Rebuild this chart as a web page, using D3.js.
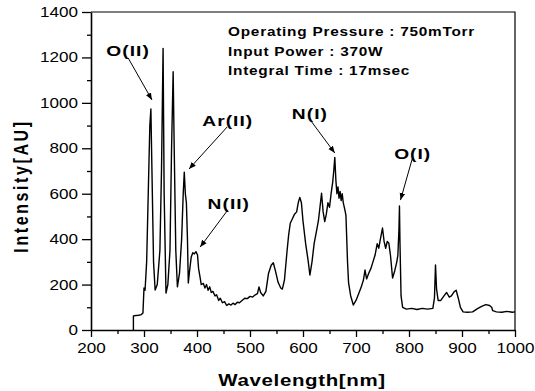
<!DOCTYPE html>
<html>
<head>
<meta charset="utf-8">
<script src="https://cdn.jsdelivr.net/npm/d3@7"></script>
<style>
  html, body { margin: 0; padding: 0; background: #fff; }
  svg { display: block; font-family: "Liberation Sans", Arial, sans-serif; }
</style>
</head>
<body>
<div id="chart"></div>
<script>
// spectrum: wavelength (nm) and intensity (AU)
const wavelength = [
  280, 280, 285, 290, 295, 298, 300, 302, 305, 308, 311, 313, 315, 318, 321, 325, 330, 333, 336, 338,
  341.5, 345, 349, 352, 355, 357, 360, 363, 367, 371, 374, 376, 378, 380, 382, 383.6, 386, 389, 392, 395,
  398, 401, 403, 406, 408, 412, 415, 418, 421, 424, 427, 430, 434, 437, 441, 444, 448, 452, 456, 460,
  464, 468, 472, 476, 480, 485, 490, 495, 500, 505, 510, 514, 517, 520, 525, 530, 535, 540, 544, 548,
  553, 558, 561, 565, 570, 573, 576, 580, 584, 588, 591, 594, 597, 600, 605, 610, 613, 617, 621, 625,
  629, 632, 635, 638, 641, 644, 647, 650, 653, 656, 658, 660, 662, 664, 666, 668, 670, 672, 674, 676,
  678, 681, 684, 686, 690, 695, 700, 705, 710, 714, 717, 720, 724, 728, 732, 736, 740, 743, 746, 750,
  753, 756, 759, 762, 765, 769, 773, 777, 779, 781, 782, 783, 785, 788, 795, 805, 815, 825, 835, 845,
  848, 850, 852, 855, 860, 866, 871, 876, 880, 885, 889, 893, 897, 902, 910, 920, 930, 938, 945, 952,
  956, 958, 965, 975, 985, 995, 1000
];
const intensity = [
  0, 62, 64, 65, 68, 75, 185, 175, 300, 600, 900, 973, 700, 300, 176, 200, 350, 700, 1240, 600,
  163, 200, 350, 800, 1137, 800, 350, 190, 250, 400, 600, 695, 600, 560, 400, 207, 260, 320, 340, 335,
  345, 330, 270, 230, 200, 205, 185, 200, 175, 190, 165, 170, 150, 155, 130, 140, 120, 125, 108, 115,
  110, 118, 112, 122, 120, 130, 140, 138, 148, 145, 155, 160, 190, 165, 150, 170, 250, 285, 296, 260,
  210, 185, 180, 220, 350, 420, 470, 490, 510, 520, 560, 584, 560, 480, 380, 300, 242, 300, 380, 430,
  480, 540, 602, 520, 477, 510, 560, 540, 600, 650, 700, 760, 660, 600, 630, 580, 610, 570, 600, 560,
  540, 506, 300, 207, 150, 110, 130, 160, 190, 220, 264, 225, 250, 270, 300, 330, 380, 360, 400, 449,
  390, 360, 390, 382, 330, 229, 260, 300, 330, 440, 546, 380, 150, 100, 92, 95, 90, 95, 92, 95,
  140, 286, 180, 130, 130, 150, 165, 145, 150, 168, 175, 140, 100, 80, 78, 80, 95, 105, 112, 108,
  100, 85, 80, 78, 82, 78, 80
];

const xTicks = [200, 300, 400, 500, 600, 700, 800, 900, 1000];
const yTicks = [0, 200, 400, 600, 800, 1000, 1200, 1400];

const infoLines = [
  'Operating Pressure : 750mTorr',
  'Input Power : 370W',
  'Integral Time : 17msec'
];

// peak labels: text, label centre (nm, AU), arrow start and arrow tip (nm, AU)
const peakLabels = [
  { text: 'O(II)',  at: [270, 1228], from: [270, 1198], to: [315, 1013] },
  { text: 'Ar(II)', at: [458, 920],  from: [457, 894],  to: [385, 709] },
  { text: 'N(II)',  at: [460, 555],  from: [458, 528],  to: [406, 365] },
  { text: 'N(I)',   at: [613, 951],  from: [611, 933],  to: [660, 779] },
  { text: 'O(I)',   at: [807, 775],  from: [806, 753],  to: [784, 572] }
];

const W = 535, H = 391;
const SX = 1.28; // the scanned lettering is wider than it is tall

const svg = d3.select('#chart').append('svg')
  .attr('width', W)
  .attr('height', H);

const x = d3.scaleLinear().domain([200, 1000]).range([91, 515]);
const y = d3.scaleLinear().domain([0, 1400]).range([330, 12]);

// frame (top and right)
svg.append('path')
  .attr('d', `M${x(200)},${y(1400)}H${x(1000)}V${y(0)}`)
  .attr('fill', 'none')
  .attr('stroke', '#000')
  .attr('stroke-width', 1.2);

// minor ticks
svg.append('g')
  .attr('transform', `translate(0,${y(0)})`)
  .call(d3.axisBottom(x).tickValues(d3.range(250, 1000, 100)).tickSize(4).tickFormat(''))
  .call((g) => g.select('.domain').remove());
svg.append('g')
  .attr('transform', `translate(${x(200)},0)`)
  .call(d3.axisLeft(y).tickValues(d3.range(100, 1400, 200)).tickSize(4).tickFormat(''))
  .call((g) => g.select('.domain').remove());

const xAxis = d3.axisBottom(x)
  .tickValues(xTicks)
  .tickFormat(d3.format('d'))
  .tickSize(7)
  .tickSizeOuter(0)
  .tickPadding(6);
const yAxis = d3.axisLeft(y)
  .tickValues(yTicks)
  .tickFormat(d3.format('d'))
  .tickSize(9)
  .tickSizeOuter(0);

const gx = svg.append('g')
  .attr('transform', `translate(0,${y(0)})`)
  .call(xAxis);
const gy = svg.append('g')
  .attr('transform', `translate(${x(200)},0)`)
  .call(yAxis);

[gx, gy].forEach((g) => {
  g.selectAll('.domain').attr('stroke-width', 1.6);
  g.selectAll('text')
    .attr('font-family', '"Liberation Sans", Arial, sans-serif')
    .attr('font-size', 14)
    .attr('fill', '#000');
});
gx.selectAll('text').attr('transform', `scale(${SX - 0.06},1)`);
gy.selectAll('text')
  .attr('x', 0)
  .attr('transform', `translate(-13,0) scale(${SX - 0.06},1)`);
svg.selectAll('.tick line').attr('stroke', '#000').attr('stroke-width', 1.3);

// spectrum
const line = d3.line()
  .x((d) => x(d[0]))
  .y((d) => y(d[1]));

svg.append('path')
  .datum(d3.zip(wavelength, intensity))
  .attr('d', line)
  .attr('fill', 'none')
  .attr('stroke', '#000')
  .attr('stroke-width', 1.4)
  .attr('stroke-linejoin', 'round');

// info block
svg.append('g')
  .selectAll('text')
  .data(infoLines)
  .join('text')
  .attr('transform', (d, i) => `translate(228,${36 + i * 19.5}) scale(${SX},1)`)
  .attr('font-size', 12)
  .attr('font-weight', 'bold')
  .attr('letter-spacing', 0.6)
  .text((d) => d);

// arrows
svg.append('defs').append('marker')
  .attr('id', 'head')
  .attr('viewBox', '0 0 10 10')
  .attr('refX', 10)
  .attr('refY', 5)
  .attr('markerWidth', 7)
  .attr('markerHeight', 7)
  .attr('markerUnits', 'userSpaceOnUse')
  .attr('orient', 'auto')
  .append('path')
  .attr('d', 'M0,1L10,5L0,9Z')
  .attr('fill', '#000');

const labels = svg.append('g');
labels.selectAll('line')
  .data(peakLabels)
  .join('line')
  .attr('x1', (d) => x(d.from[0]))
  .attr('y1', (d) => y(d.from[1]))
  .attr('x2', (d) => x(d.to[0]))
  .attr('y2', (d) => y(d.to[1]))
  .attr('stroke', '#000')
  .attr('stroke-width', 1)
  .attr('marker-end', 'url(#head)');

labels.selectAll('text')
  .data(peakLabels)
  .join('text')
  .attr('transform', (d) => `translate(${x(d.at[0])},${y(d.at[1])}) scale(${SX},1)`)
  .attr('dy', '0.36em')
  .attr('text-anchor', 'middle')
  .attr('font-size', 15)
  .attr('font-weight', 'bold')
  .attr('letter-spacing', 0.8)
  .text((d) => d.text);

// axis titles
svg.append('text')
  .attr('transform', `translate(302,386) scale(${SX},1)`)
  .attr('text-anchor', 'middle')
  .attr('font-size', 16)
  .attr('font-weight', 'bold')
  .attr('letter-spacing', 0.5)
  .text('Wavelength[nm]');

svg.append('text')
  .attr('transform', `translate(28,186) rotate(-90) scale(1,${SX})`)
  .attr('text-anchor', 'middle')
  .attr('font-size', 16)
  .attr('font-weight', 'bold')
  .attr('letter-spacing', 2.6)
  .text('Intensity[AU]');
</script>
</body>
</html>
